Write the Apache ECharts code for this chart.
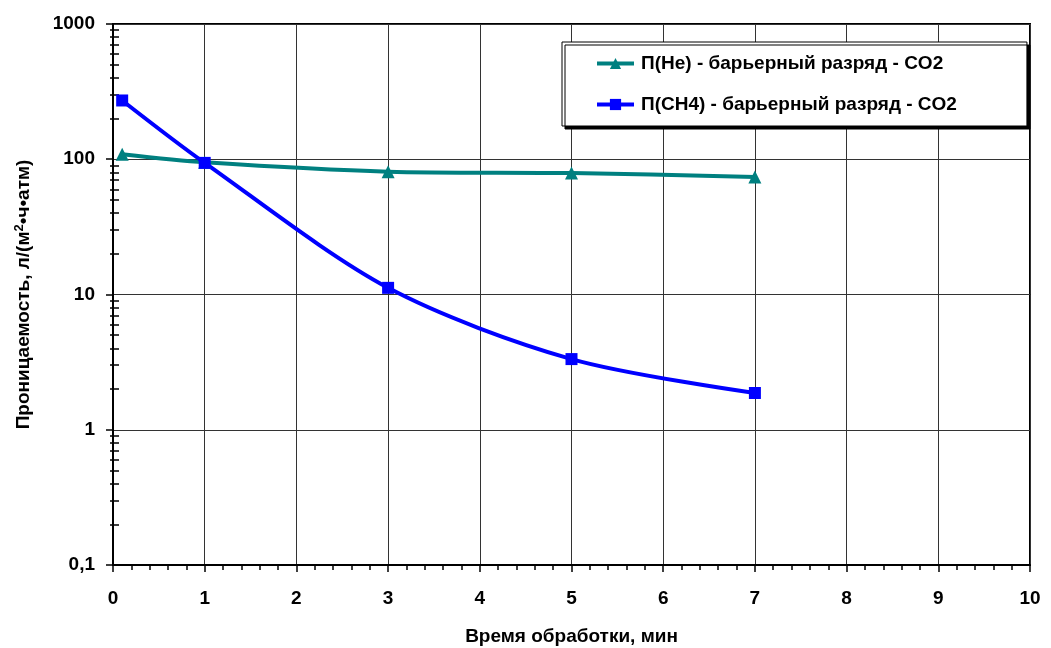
<!DOCTYPE html>
<html>
<head>
<meta charset="utf-8">
<script src="https://cdn.jsdelivr.net/npm/echarts@6/dist/echarts.min.js"></script>
<style>
  html, body { margin: 0; padding: 0; background: #fff; }
  #chart { width: 1051px; height: 648px; }
</style>
</head>
<body>
<div id="chart"></div>
<script>
// time of treatment, min
const timeHe = [0.1, 1, 3, 5, 7];
const timeCH4 = [0.1, 1, 3, 5, 7];
// permeability, l/(m2*h*atm)
const permHe = [109, 95, 81, 79, 74];
const permCH4 = [272, 94, 11.2, 3.33, 1.87];

const nameHe = 'П(He) - барьерный разряд - CO2';
const nameCH4 = 'П(CH4) - барьерный разряд - CO2';

// log-axis minor tick positions (2..9 in each decade)
const decades = [0.1, 1, 10, 100];
const minorSteps = [2, 3, 4, 5, 6, 7, 8, 9];

const FONT = 'Arial, "Liberation Sans", sans-serif';

document.addEventListener('DOMContentLoaded', () => {
    const chart = echarts.init(document.getElementById('chart'), null, { renderer: 'canvas' });

    const minorValues = [];
    decades.forEach(d => minorSteps.forEach(s => minorValues.push(+(d * s).toPrecision(3))));

    const pairs = (xs, ys) => xs.map((x, i) => [x, ys[i]]);

    const option = {
        animation: false,
        backgroundColor: '#fff',
        textStyle: { fontFamily: FONT },
        grid: {
            left: 113, right: 21, top: 24, bottom: 83,
            outerBoundsMode: 'none',
            containLabel: false,
            show: true, borderColor: '#000', borderWidth: 2, backgroundColor: 'transparent'
        },
        legend: {
            orient: 'vertical',
            left: 562, top: 42,
            padding: [12, 70, 12, 33],
            itemGap: 22,
            itemWidth: 37,
            itemHeight: 14,
            backgroundColor: '#fff',
            borderColor: '#000',
            borderWidth: 1,
            shadowColor: '#000',
            shadowOffsetX: 3,
            shadowOffsetY: 3,
            shadowBlur: 0,
            lineStyle: { width: 4 },
            textStyle: { fontFamily: FONT, fontWeight: 'bold', fontSize: 19, color: '#000', padding: [0, 0, 0, 2] },
            data: [nameHe, nameCH4]
        },
        xAxis: {
            type: 'value',
            min: 0, max: 10, interval: 1,
            name: 'Время обработки, мин',
            nameLocation: 'middle',
            nameGap: 62,
            nameTextStyle: { fontFamily: FONT, fontWeight: 'bold', fontSize: 19, color: '#000' },
            axisLine: { onZero: false, lineStyle: { color: '#000', width: 2 } },
            axisTick: { show: true, inside: false, length: 7, lineStyle: { color: '#000', width: 1.5 } },
            minorTick: { show: true, splitNumber: 5, length: 5, lineStyle: { color: '#000', width: 1.5 } },
            splitLine: { show: true, lineStyle: { color: '#333', width: 1 } },
            axisLabel: { margin: 24, fontFamily: FONT, fontWeight: 'bold', fontSize: 19, color: '#000' }
        },
        yAxis: [{
            type: 'log',
            logBase: 10,
            min: 0.1, max: 1000,
            name: 'Проницаемость, л/(м{sup|2}•ч•атм)',
            nameLocation: 'middle',
            nameGap: 78,
            nameRotate: 90,
            nameTextStyle: {
                fontFamily: FONT, fontWeight: 'bold', fontSize: 19, color: '#000',
                rich: {
                    sup: { fontFamily: FONT, fontWeight: 'bold', fontSize: 13, color: '#000', verticalAlign: 'top', padding: [0, 0, 9, 0] }
                }
            },
            axisLine: { lineStyle: { color: '#000', width: 2 } },
            axisTick: { show: true, inside: false, length: 7, lineStyle: { color: '#000', width: 1.5 } },
            splitLine: { show: true, lineStyle: { color: '#333', width: 1 } },
            axisLabel: {
                margin: 18,
                fontFamily: FONT, fontWeight: 'bold', fontSize: 19, color: '#000',
                formatter: v => String(v).replace('.', ',')
            }
        }, {
            // minor log ticks, inner part
            type: 'log',
            logBase: 10,
            min: 0.1, max: 1000,
            position: 'left',
            axisLine: { show: false },
            splitLine: { show: false },
            axisLabel: { show: false },
            axisTick: {
                show: true, inside: true, length: 6,
                customValues: minorValues,
                lineStyle: { color: '#000', width: 1.5 }
            }
        }, {
            // minor log ticks, outer part
            type: 'log',
            logBase: 10,
            min: 0.1, max: 1000,
            position: 'left',
            axisLine: { show: false },
            splitLine: { show: false },
            axisLabel: { show: false },
            axisTick: {
                show: true, inside: false, length: 3,
                customValues: minorValues,
                lineStyle: { color: '#000', width: 1.5 }
            }
        }],
        series: [{
            name: nameHe,
            type: 'line',
            smooth: 0.3,
            data: pairs(timeHe, permHe),
            symbol: 'triangle',
            symbolSize: 13,
            color: '#008080',
            lineStyle: { color: '#008080', width: 4 },
            itemStyle: { color: '#008080' }
        }, {
            name: nameCH4,
            type: 'line',
            smooth: 0.3,
            data: pairs(timeCH4, permCH4),
            symbol: 'rect',
            symbolSize: 12,
            color: '#0000ff',
            lineStyle: { color: '#0000ff', width: 4 },
            itemStyle: { color: '#0000ff' }
        }]
    };

    chart.setOption(option);
});
</script>
</body>
</html>
